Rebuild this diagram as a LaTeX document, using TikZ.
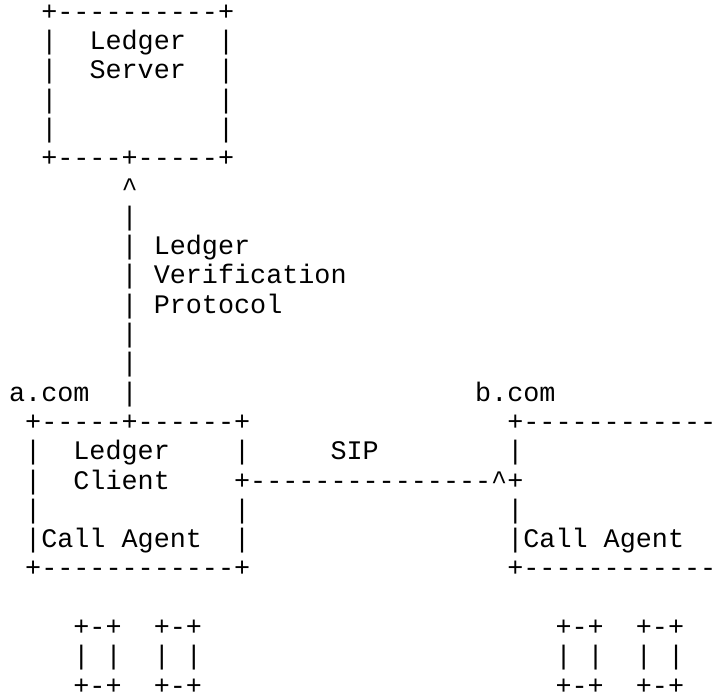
\documentclass[tikz,border=0pt]{standalone}
\usepackage{fontspec}
\setmonofont{Liberation Mono}
\tikzset{asc/.style={anchor=base west, inner sep=0pt, outer sep=0pt, text=black,
  font=\ttfamily\fontsize{26.78pt}{29.3pt}\selectfont}}
\newcommand\putascii[4]{\node[asc] (#1) at ({9.15+#2*16.07},{20.2+(#3-1)*29.3}) {#4};}
\begin{document}
\begin{tikzpicture}[x=1pt,y=-1pt]
\useasboundingbox[fill=white] (0,0) rectangle (720,696);
\clip (0,0) rectangle (720,696);
\putascii{t1}{2}{1}{+----------+}
\putascii{t2a}{2}{2}{|}\putascii{t2b}{5}{2}{Ledger}\putascii{t2c}{13}{2}{|}
\putascii{t3a}{2}{3}{|}\putascii{t3b}{5}{3}{Server}\putascii{t3c}{13}{3}{|}
\putascii{t4a}{2}{4}{|}\putascii{t4c}{13}{4}{|}
\putascii{t5a}{2}{5}{|}\putascii{t5c}{13}{5}{|}
\putascii{t6}{2}{6}{+----+-----+}
\putascii{t7}{7}{7}{\textasciicircum}
\putascii{t8}{7}{8}{|}
\putascii{t9a}{7}{9}{|}\putascii{t9b}{9}{9}{Ledger}
\putascii{t10a}{7}{10}{|}\putascii{t10b}{9}{10}{Verification}
\putascii{t11a}{7}{11}{|}\putascii{t11b}{9}{11}{Protocol}
\putascii{t12}{7}{12}{|}
\putascii{t13}{7}{13}{|}
\putascii{t14a}{0}{14}{a.com}\putascii{t14b}{7}{14}{|}\putascii{t14c}{29}{14}{b.com}
\putascii{t15a}{1}{15}{+-----+------+}\putascii{t15b}{31}{15}{+------------}
\putascii{t16a}{1}{16}{|}\putascii{t16b}{4}{16}{Ledger}\putascii{t16c}{14}{16}{|}\putascii{t16d}{20}{16}{SIP}\putascii{t16e}{31}{16}{|}
\putascii{t17a}{1}{17}{|}\putascii{t17b}{4}{17}{Client}\putascii{t17c}{14}{17}{+---------------\textasciicircum+}
\putascii{t18a}{1}{18}{|}\putascii{t18b}{14}{18}{|}\putascii{t18c}{31}{18}{|}
\putascii{t19a}{1}{19}{|Call Agent}\putascii{t19b}{14}{19}{|}\putascii{t19c}{31}{19}{|Call Agent}
\putascii{t20a}{1}{20}{+------------+}\putascii{t20b}{31}{20}{+------------}
\putascii{t22a}{4}{22}{+-+}\putascii{t22b}{9}{22}{+-+}\putascii{t22c}{34}{22}{+-+}\putascii{t22d}{39}{22}{+-+}
\putascii{t23a}{4}{23}{|}\putascii{t23b}{6}{23}{|}\putascii{t23c}{9}{23}{|}\putascii{t23d}{11}{23}{|}
\putascii{t23e}{34}{23}{|}\putascii{t23f}{36}{23}{|}\putascii{t23g}{39}{23}{|}\putascii{t23h}{41}{23}{|}
\putascii{t24a}{4}{24}{+-+}\putascii{t24b}{9}{24}{+-+}\putascii{t24c}{34}{24}{+-+}\putascii{t24d}{39}{24}{+-+}
\end{tikzpicture}
\end{document}
